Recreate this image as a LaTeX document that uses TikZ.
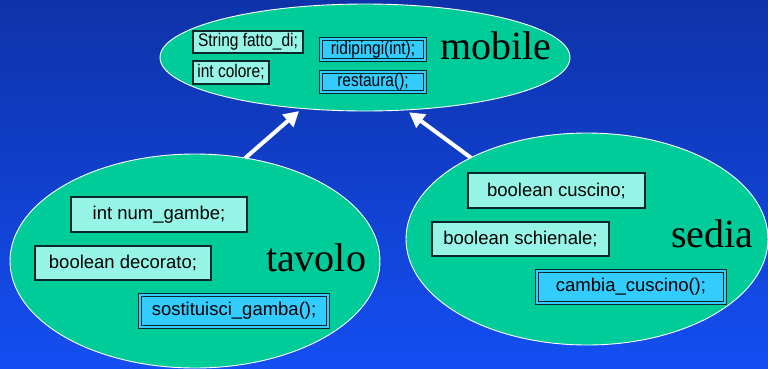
\documentclass[tikz,border=0pt]{standalone}
\usepackage{fontspec}
\usepackage{graphicx}
\setmainfont{Liberation Serif}
\setsansfont{Liberation Sans}
\usetikzlibrary{shapes.geometric,arrows.meta}
\definecolor{bgtop}{RGB}{14,50,168}
\definecolor{bgbot}{RGB}{20,78,242}
\definecolor{classfill}{RGB}{0,204,153}
\definecolor{attrfill}{RGB}{150,245,230}
\definecolor{methfill}{RGB}{51,204,255}
\definecolor{boxline}{RGB}{10,40,40}
% slightly taller lettering for the small member boxes
\newcommand{\tallertext}[1]{\scalebox{1}[1.18]{#1}}
\tikzset{
  classbox/.style={ellipse, draw=white, line width=0.9pt, fill=classfill,
    inner sep=0pt, outer sep=0pt},
  attr/.style={rectangle, draw=boxline, line width=1.1pt, fill=attrfill,
    inner sep=0pt, outer sep=0pt, font=\sffamily},
  meth/.style={rectangle, draw=boxline, line width=1pt, double=methfill,
    double distance=2pt, fill=methfill, inner sep=0pt, outer sep=0pt,
    font=\sffamily},
  small/.style={font=\sffamily\fontsize{15.5}{17}\selectfont},
  big/.style={font=\sffamily\fontsize{18.5}{20}\selectfont},
  classname/.style={anchor=base, inner sep=0pt, font=\fontsize{40}{44}\selectfont},
  inherit/.style={draw=white, line width=4pt,
    -{Triangle[length=15pt,width=16pt]}, shorten >=4pt}
}
\begin{document}
\begin{tikzpicture}[x=1pt,y=-1pt]
  % background
  \shade[top color=bgtop, bottom color=bgbot] (0,0) rectangle (768,368);
  \useasboundingbox (0,0) rectangle (768,368);

  % classes
  \node[classbox, minimum width=410pt, minimum height=107pt] (mobile) at (365,57.5) {};
  \node[classbox, minimum width=370pt, minimum height=214pt] (tavolo) at (195,261) {};
  \node[classbox, minimum width=362pt, minimum height=212pt] (sedia) at (587,239) {};

  % mobile
  \node[attr, small, minimum width=110pt, minimum height=22pt] (fatto) at (248,42) {\tallertext{String fatto\_di;}};
  \node[attr, small, minimum width=76pt, minimum height=23pt] (colore) at (231,72.5) {\tallertext{int colore;}};
  \node[meth, small, minimum width=104pt, minimum height=21pt] (ridip) at (373,49.5) {\tallertext{ridipingi(int);}};
  \node[meth, small, minimum width=104pt, minimum height=20pt] (rest) at (373,82) {\tallertext{restaura();}};
  \node[classname] (lmobile) at (496,59) {mobile};

  % tavolo
  \node[attr, big, minimum width=176pt, minimum height=35pt] (gambe) at (159,214.5) {int num\_gambe;};
  \node[attr, big, minimum width=176pt, minimum height=34pt] (decor) at (123,263) {boolean decorato;};
  \node[meth, big, minimum width=188pt, minimum height=32pt] (sost) at (234,311) {sostituisci\_gamba();};
  \node[classname] (ltavolo) at (316,271) {tavolo};

  % sedia
  \node[attr, big, minimum width=177pt, minimum height=35pt] (cusc) at (556.5,190.5) {boolean cuscino;};
  \node[attr, big, minimum width=177pt, minimum height=34pt] (schien) at (520.5,239) {boolean schienale;};
  \node[meth, big, minimum width=188pt, minimum height=32pt] (cambia) at (631,287) {cambia\_cuscino();};
  \node[classname] (lsedia) at (712.5,247) {sedia};

  % inheritance arrows
  \draw[inherit] (tavolo.64) -- (mobile.219);
  \draw[inherit] (sedia.145) -- (mobile.308);
\end{tikzpicture}
\end{document}
